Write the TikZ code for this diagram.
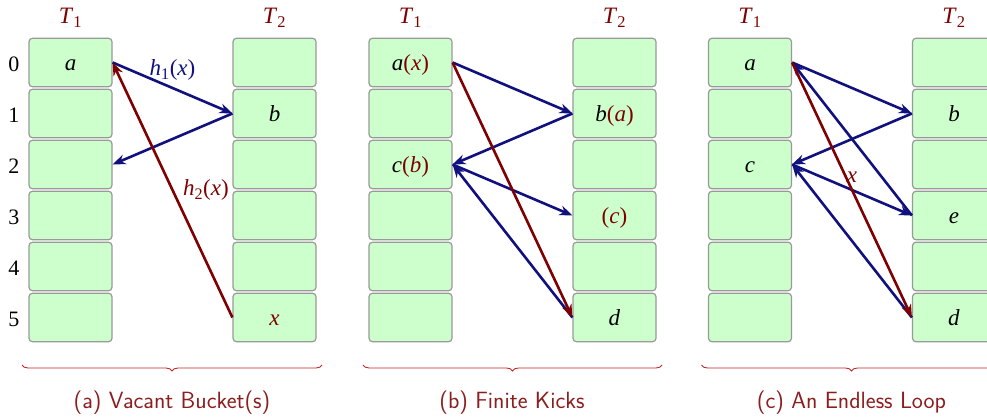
\documentclass[tikz,border=0pt]{standalone}
\usepackage{fontspec}
\setmainfont{Liberation Serif}
\usetikzlibrary{arrows.meta,decorations.pathreplacing}

\definecolor{cellfill}{HTML}{CCFFCC}
\definecolor{cellline}{HTML}{999999}
\definecolor{kickblue}{HTML}{10107F}
\definecolor{kickred}{HTML}{7F0000}
\definecolor{bracered}{HTML}{C02828}
\definecolor{capred}{HTML}{8B1E1E}

% item and "previous slot" helpers
\newcommand\itm[1]{\textit{#1}}
\newcommand\prv[1]{\textcolor{kickred}{(\textit{#1})}}
\newcommand\tabnm[1]{\textit{T}\textsubscript{#1}}

\tikzset{
  bucket/.style={draw=cellline, fill=cellfill, rounded corners=3.5pt,
    minimum width=83pt, minimum height=48.5pt, line width=1.2pt, inner sep=0pt,
    text height=16pt, text depth=0pt,
    font=\fontsize{23}{23}\selectfont},
  rowno/.style={font=\fontsize{22}{22}\selectfont, inner sep=0pt,
    text height=18pt, text depth=0pt},
  tabname/.style={text=kickred, font=\fontsize{23.5}{23.5}\selectfont},
  kick/.style={draw=kickblue, line width=2.6pt,
    -{Stealth[length=13pt,width=10pt]}},
  evict/.style={kick, draw=kickred},
  hashlbl/.style={font=\fontsize{23}{23}\selectfont},
  brc/.style={draw=bracered, line width=0.9pt, decorate,
    decoration={brace, mirror, amplitude=6pt}},
  caption/.style={text=capred, font=\fontsize{23.5}{23.5}\selectfont\sffamily},
}

\begin{document}
\begin{tikzpicture}[x=1pt, y=-1pt]
\useasboundingbox (0,0) rectangle (987,419);
\clip (0,0) rectangle (987,419);

% ---------------- (a) Vacant Bucket(s) ----------------
\node[tabname] (pa-T1) at (70.5,18) {\tabnm{1}};
\node[tabname] (pa-T2) at (274.5,18) {\tabnm{2}};
\foreach \r in {0,...,5}
  \node[rowno] (rn-\r) at (14,{62.5+51*\r}) {\r};
\foreach \r/\t in {0/{\itm{a}},1/{},2/{},3/{},4/{},5/{}}
  \node[bucket] (pa1-\r) at (70.5,{62.5+51*\r}) {\t};
\foreach \r/\t in {0/{},1/{\itm{b}},2/{},3/{},4/{},5/{\textcolor{kickred}{\itm{x}}}}
  \node[bucket] (pa2-\r) at (274.5,{62.5+51*\r}) {\t};

\draw[kick] (pa1-0.east) -- node[pos=0.5, above=3pt, hashlbl, text=kickblue]
  {\itm{h}\textsubscript{1}(\itm{x})} (pa2-1.west);
\draw[kick] (pa2-1.west) -- (pa1-2.east);
\draw[evict] (pa2-5.west) -- node[pos=0.5, right=6pt, hashlbl, text=kickred]
  {\itm{h}\textsubscript{2}(\itm{x})} (pa1-0.east);

\draw[brc] (22,365) -- (322,365);
\node[caption] (pa-cap) at (172,403) {(a) Vacant Bucket(s)};

% ---------------- (b) Finite Kicks ----------------
\begin{scope}[xshift=340pt]
\node[tabname] (pb-T1) at (70.5,18) {\tabnm{1}};
\node[tabname] (pb-T2) at (274.5,18) {\tabnm{2}};
\foreach \r/\t in {0/{\itm{a}\prv{x}},1/{},2/{\itm{c}\prv{b}},3/{},4/{},5/{}}
  \node[bucket] (pb1-\r) at (70.5,{62.5+51*\r}) {\t};
\foreach \r/\t in {0/{},1/{\itm{b}\prv{a}},2/{},3/{\prv{c}},4/{},5/{\itm{d}}}
  \node[bucket] (pb2-\r) at (274.5,{62.5+51*\r}) {\t};

\draw[kick] (pb1-0.east) -- (pb2-1.west);
\draw[kick] (pb2-1.west) -- (pb1-2.east);
\draw[kick] (pb1-2.east) -- (pb2-3.west);
\draw[kick] (pb2-5.west) -- (pb1-2.east);
\draw[evict] (pb1-0.east) -- (pb2-5.west);

\draw[brc] (23,365) -- (322,365);
\node[caption] (pb-cap) at (172,403) {(b) Finite Kicks};
\end{scope}

% ---------------- (c) An Endless Loop ----------------
\begin{scope}[xshift=679.5pt]
\node[tabname] (pc-T1) at (70.5,18) {\tabnm{1}};
\node[tabname] (pc-T2) at (274.5,18) {\tabnm{2}};
\foreach \r/\t in {0/{\itm{a}},1/{},2/{\itm{c}},3/{},4/{},5/{}}
  \node[bucket] (pc1-\r) at (70.5,{62.5+51*\r}) {\t};
\foreach \r/\t in {0/{},1/{\itm{b}},2/{},3/{\itm{e}},4/{},5/{\itm{d}}}
  \node[bucket] (pc2-\r) at (274.5,{62.5+51*\r}) {\t};

\draw[kick] (pc1-0.east) -- (pc2-1.west);
\draw[kick] (pc2-1.west) -- (pc1-2.east);
\draw[kick] (pc1-2.east) -- (pc2-3.west);
\draw[kick] (pc2-3.west) -- (pc1-0.east);
\draw[kick] (pc2-5.west) -- (pc1-2.east);
\draw[evict] (pc1-0.east) -- node[pos=0.45, xshift=6pt, hashlbl, text=kickred]
  {\itm{x}} (pc2-5.west);

\draw[brc] (22,365) -- (322,365);
\node[caption] (pc-cap) at (172,403) {(c) An Endless Loop};
\end{scope}
\end{tikzpicture}
\end{document}
